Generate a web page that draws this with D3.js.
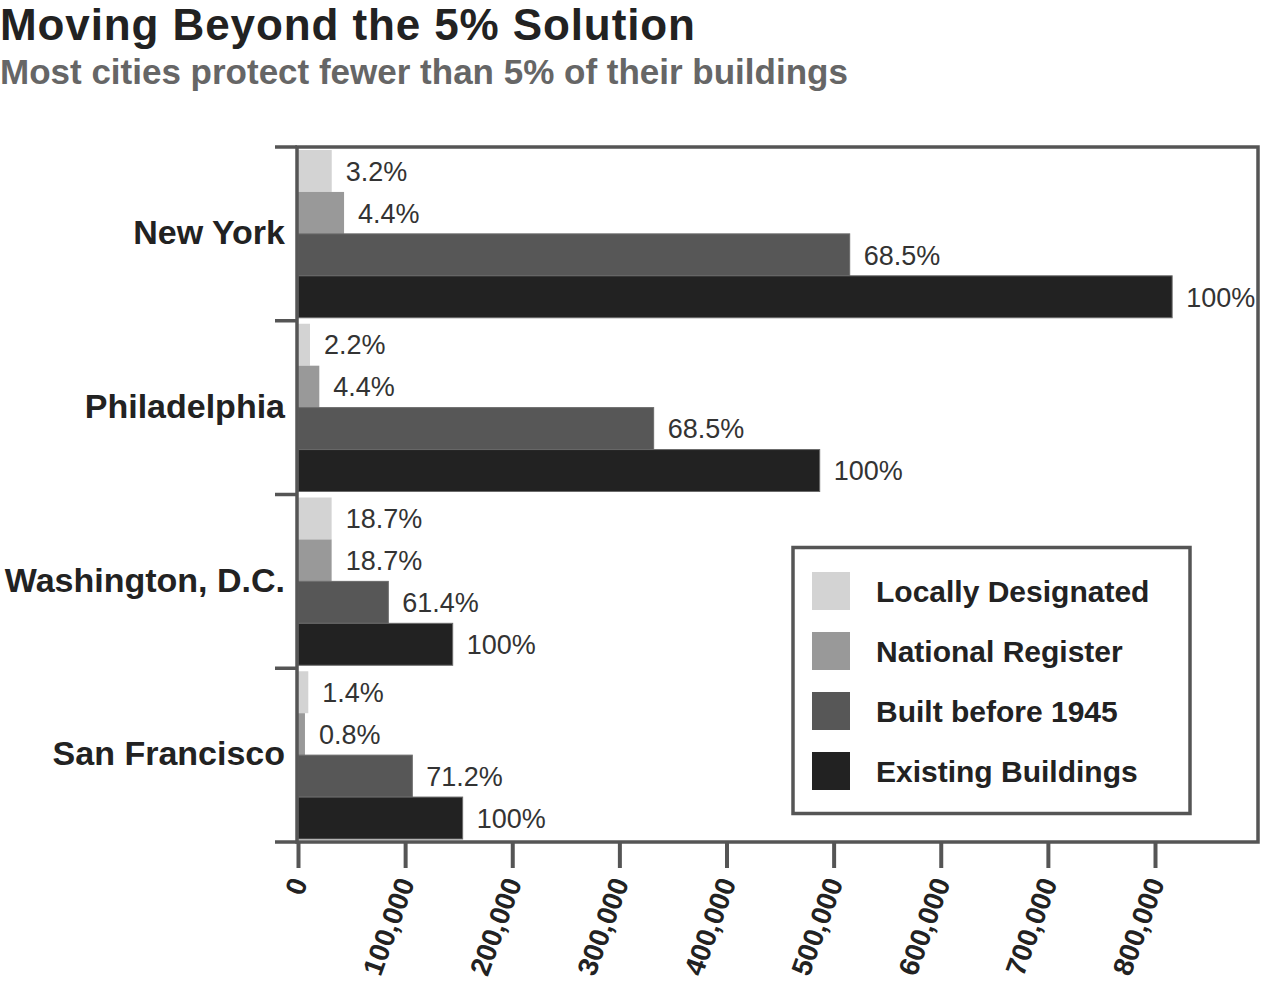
<!DOCTYPE html>
<html>
<head>
<meta charset="utf-8">
<script src="https://cdn.jsdelivr.net/npm/d3@7"></script>
<style>
  html, body { margin: 0; padding: 0; background: #fff; }
  svg { display: block; font-family: "Liberation Sans", Arial, Helvetica, sans-serif; }
</style>
</head>
<body>
<svg id="chart" width="1264" height="988"></svg>
<script>
// ---- data ----
const cities = ["New York", "Philadelphia", "Washington, D.C.", "San Francisco"];
const seriesNames = ["Locally Designated", "National Register", "Built before 1945", "Existing Buildings"];
const locallyDesignated = [31500, 11200, 31400, 9600];
const nationalRegister  = [43000, 19900, 31400, 6500];
const builtBefore1945   = [515000, 332000, 84300, 106700];
const existingBuildings = [816000, 487000, 144400, 153700];
const pctLocally  = ["3.2%", "2.2%", "18.7%", "1.4%"];
const pctNational = ["4.4%", "4.4%", "18.7%", "0.8%"];
const pctBuilt    = ["68.5%", "68.5%", "61.4%", "71.2%"];
const pctExisting = ["100%", "100%", "100%", "100%"];
const xTicks = [0, 100000, 200000, 300000, 400000, 500000, 600000, 700000, 800000];
const colors = ["#d3d3d3", "#999999", "#575757", "#222222"];

const valuesBySeries = [locallyDesignated, nationalRegister, builtBefore1945, existingBuildings];
const pctBySeries = [pctLocally, pctNational, pctBuilt, pctExisting];

const rows = [];
cities.forEach((c, ci) => {
  seriesNames.forEach((s, si) => {
    rows.push({ city: c, series: s, si: si, value: valuesBySeries[si][ci], label: pctBySeries[si][ci] });
  });
});

// ---- layout ----
const svg = d3.select("#chart");
const plotLeft = 297, plotRight = 1258, plotTop = 147, plotBottom = 842;
const frameColor = "#555";

svg.append("rect").attr("width", 1264).attr("height", 988).attr("fill", "#fff");

const x = d3.scaleLinear().domain([0, 800000]).range([298, 1155]);
const y0 = d3.scaleBand().domain(cities).range([plotTop, plotBottom]).padding(0);
const y1 = d3.scaleBand().domain(seriesNames).range([3, y0.bandwidth() - 3]).padding(0);
const color = d3.scaleOrdinal().domain(seriesNames).range(colors);

// title
svg.append("text").attr("x", 0).attr("y", 40)
  .attr("font-size", 44).attr("font-weight", "bold").attr("fill", "#222")
  .attr("letter-spacing", "0.9px")
  .text("Moving Beyond the 5% Solution");
svg.append("text").attr("x", 0).attr("y", 84)
  .attr("font-size", 35).attr("font-weight", "bold").attr("fill", "#666")
  .text("Most cities protect fewer than 5% of their buildings");

// bars
const bars = svg.append("g");
bars.selectAll("rect").data(rows).join("rect")
  .attr("x", x(0))
  .attr("y", d => y0(d.city) + y1(d.series))
  .attr("width", d => x(d.value) - x(0))
  .attr("height", y1.bandwidth())
  .attr("fill", d => color(d.series))
  .attr("stroke", d => d.si >= 2 ? "#6a6a6a" : "none")
  .attr("stroke-width", 1);

// value labels
svg.append("g").selectAll("text").data(rows).join("text")
  .attr("x", d => x(d.value) + 14)
  .attr("y", d => y0(d.city) + y1(d.series) + y1.bandwidth() / 2)
  .attr("dy", "0.36em")
  .attr("font-size", 27).attr("fill", "#333")
  .text(d => d.label);

// frame
svg.append("rect")
  .attr("x", plotLeft).attr("y", plotTop)
  .attr("width", plotRight - plotLeft).attr("height", plotBottom - plotTop)
  .attr("fill", "none").attr("stroke", frameColor).attr("stroke-width", 3.5);

// left axis: labels via axis, boundary ticks
const yAxis = svg.append("g").attr("transform", `translate(${plotLeft - 12},0)`)
  .call(d3.axisLeft(y0).tickSize(0).tickPadding(0));
yAxis.select(".domain").remove();
yAxis.selectAll("text")
  .attr("font-size", 34).attr("font-weight", "bold").attr("fill", "#222")
  .attr("font-family", "'Liberation Sans', Arial, Helvetica, sans-serif")
  .attr("dy", "0.3em");

const boundaries = cities.map(c => y0(c)).concat([y0.range()[1]]);
svg.append("g").selectAll("line").data(boundaries).join("line")
  .attr("x1", 275).attr("x2", plotLeft)
  .attr("y1", d => d).attr("y2", d => d)
  .attr("stroke", frameColor).attr("stroke-width", 3.5);

// bottom axis
const xAxis = svg.append("g").attr("transform", `translate(0,${plotBottom})`)
  .call(d3.axisBottom(x).tickValues(xTicks).tickSize(26).tickPadding(0).tickFormat(d3.format(",")));
xAxis.select(".domain").remove();
xAxis.selectAll(".tick line").attr("stroke", frameColor).attr("stroke-width", 4);
xAxis.selectAll(".tick text")
  .attr("font-size", 28).attr("font-weight", "bold").attr("fill", "#222")
  .attr("font-family", "'Liberation Sans', Arial, Helvetica, sans-serif")
  .attr("text-anchor", "end")
  .attr("y", 0).attr("dy", "0.36em")
  .attr("transform", "translate(0,37) rotate(-70)");

// legend
const lg = svg.append("g");
lg.append("rect").attr("x", 793).attr("y", 547.5).attr("width", 397).attr("height", 266)
  .attr("fill", "#fff").attr("stroke", frameColor).attr("stroke-width", 3.5);
const items = lg.selectAll("g.item").data(seriesNames).join("g").attr("class", "item")
  .attr("transform", (d, i) => `translate(812,${572 + i * 60})`);
items.append("rect").attr("width", 38).attr("height", 38).attr("fill", d => color(d));
items.append("text").attr("x", 64).attr("y", 19).attr("dy", "0.36em")
  .attr("font-size", 30).attr("font-weight", "bold").attr("fill", "#222")
  .text(d => d);
</script>
</body>
</html>
